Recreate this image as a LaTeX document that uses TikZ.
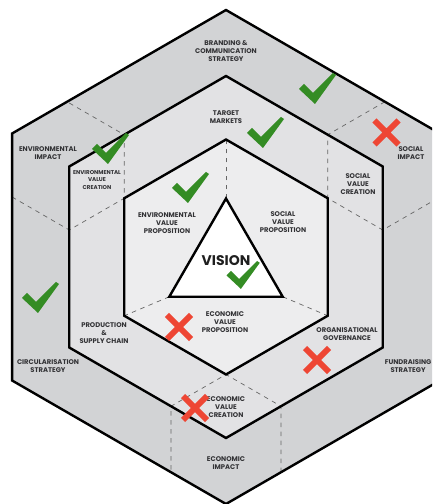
\documentclass[tikz,border=0pt]{standalone}
\usepackage{fontspec}
\setmainfont{Poppins}
\usetikzlibrary{calc}
\definecolor{ringout}{RGB}{210,211,213}
\definecolor{ringmid}{RGB}{226,226,228}
\definecolor{ringin}{RGB}{237,237,238}
\definecolor{labelgray}{RGB}{50,50,53}
\definecolor{okgreen}{RGB}{52,140,36}
\definecolor{nored}{RGB}{238,70,52}
\begin{document}
\begin{tikzpicture}[x=1pt,y=1pt,
  hexline/.style={draw=black,line width=2.4pt,line join=miter},
  divider/.style={draw=black!60,line width=0.7pt,dash pattern=on 4.5pt off 4.5pt},
  lbl/.style={font=\fontsize{6.8}{8.3}\selectfont\bfseries,text=labelgray,align=center,inner sep=0pt},
  lblsmall/.style={lbl,font=\fontsize{5.6}{7.3}\selectfont\bfseries},
  tick/.pic={\fill[okgreen] (-15,14) -- (-10,19) -- (-1,10) -- (19,30) -- (22,28) -- (1,-1) -- cycle;},
  cross/.pic={\draw[nored,line width=6pt] (-12,-12) -- (12,12) (-12,12) -- (12,-12);}
]
\useasboundingbox (0,0) rectangle (432,504);
\clip (0,0) rectangle (432,504);

% centres of the hexagons and of the triangle
\coordinate (C) at (226,247);
\coordinate (T) at (226,240);

% corners of the three hexagons and the triangle
\foreach \n/\r in {out/247, mid/181, in/117.5}{
  \foreach \a in {30,90,...,330}{\coordinate (\n\a) at ($(C)+(\a:\r)$);}
}
\foreach \a in {90,210,330}{\coordinate (tri\a) at ($(T)+(\a:65.5)$);}

% ring fills
\fill[ringout] (out30) -- (out90) -- (out150) -- (out210) -- (out270) -- (out330) -- cycle;
\fill[ringmid] (mid30) -- (mid90) -- (mid150) -- (mid210) -- (mid270) -- (mid330) -- cycle;
\fill[ringin] (in30) -- (in90) -- (in150) -- (in210) -- (in270) -- (in330) -- cycle;

% dashed dividers between the cells of the two rings
\foreach \d [evaluate=\d as \angA using \d+60, evaluate=\d as \angB using \d-60] in {150,30,270}{
  \coordinate (l\d) at ($(in\d)+(\angA:63.5)$);
  \coordinate (r\d) at ($(in\d)+(\angB:63.5)$);
  \coordinate (lo\d) at ($(l\d)+(\d:66)$);
  \coordinate (ro\d) at ($(r\d)+(\d:66)$);
  \draw[divider] (lo\d) -- (l\d) -- (in\d) -- (r\d) -- (ro\d);
}
% dashed dividers inside the inner hexagon
\foreach \a in {90,210,330}{\draw[divider] (tri\a) -- (in\a);}

% outlines
\draw[hexline] (out30) -- (out90) -- (out150) -- (out210) -- (out270) -- (out330) -- cycle;
\draw[hexline] (mid30) -- (mid90) -- (mid150) -- (mid210) -- (mid270) -- (mid330) -- cycle;
\draw[hexline] (in30) -- (in90) -- (in150) -- (in210) -- (in270) -- (in330) -- cycle;
\filldraw[hexline,fill=white] (tri90) -- (tri210) -- (tri330) -- cycle;

% outer ring labels
\node[lbl] (branding) at (226,453) {BRANDING \&\\COMMUNICATION\\STRATEGY};
\node[lbl] (envimpact) at (48,351) {ENVIRONMENTAL\\IMPACT};
\node[lbl] (socimpact) at (411,351) {SOCIAL\\IMPACT};
\node[lbl] (circular) at (48,138) {CIRCULARISATION\\STRATEGY};
\node[lbl,anchor=east] (fundraise) at (431.5,138) {FUNDRAISING\\STRATEGY};
\node[lbl] (ecoimpact) at (226,41) {ECONOMIC\\IMPACT};

% middle ring labels
\node[lbl] (target) at (226,387) {TARGET\\MARKETS};
\node[lblsmall] (envvc) at (97,324) {ENVIRONMENTAL\\VALUE\\CREATION};
\node[lbl] (socvc) at (358,320) {SOCIAL\\VALUE\\CREATION};
\node[lbl] (production) at (104,171) {PRODUCTION\\\&\\SUPPLY CHAIN};
\node[lbl] (orggov) at (347,170) {ORGANISATIONAL\\GOVERNANCE};
\node[lbl] (ecovc) at (226,97) {ECONOMIC\\VALUE\\CREATION};

% inner hexagon labels
\node[lbl] (envvp) at (167,281) {ENVIRONMENTAL\\VALUE\\PROPOSITION};
\node[lbl] (socvp) at (283,282) {SOCIAL\\VALUE\\PROPOSITION};
\node[lbl] (ecovp) at (225,182) {ECONOMIC\\VALUE\\PROPOSITION};
\node[font=\fontsize{14}{14}\selectfont\bfseries,text=black!88,inner sep=0pt] (vision) at (226,243) {VISION};

% ticks and crosses
\pic at (314,401) {tick};
\pic at (262,357) {tick};
\pic at (107,341) {tick};
\pic at (187,302) {tick};
\pic[scale=0.9] at (240,216) {tick};
\pic at (37,192) {tick};
\pic at (386.5,371.5) {cross};
\pic at (179,177) {cross};
\pic at (317,144) {cross};
\pic at (195,96) {cross};
\end{tikzpicture}
\end{document}
